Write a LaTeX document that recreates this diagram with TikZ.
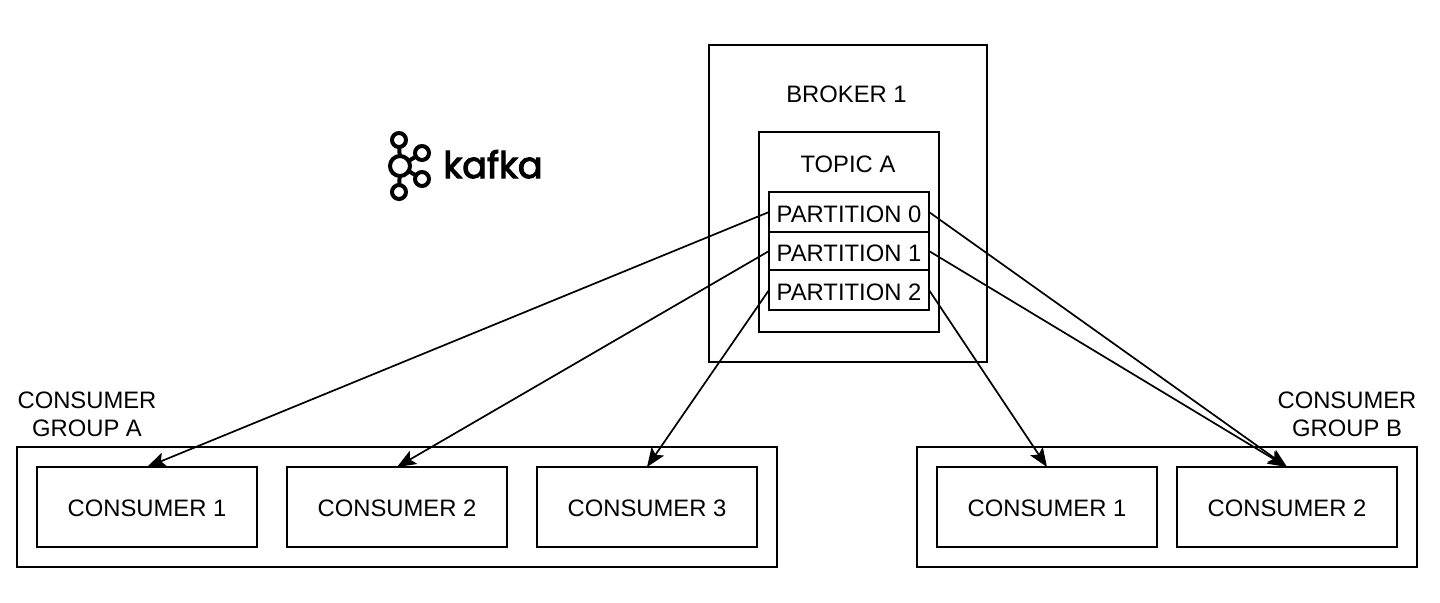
\documentclass[tikz,border=0pt]{standalone}
\usepackage{fontspec}
\setmainfont{Liberation Sans}
\newfontfamily\logofont{Poppins}[FakeBold=3]
\usetikzlibrary{arrows.meta}
\usetikzlibrary{positioning}

\begin{document}
\begin{tikzpicture}[
x=0.5pt,y=-0.5pt,
MyBox/.style={draw=black,line width=1pt,fill=white,inner sep=0pt,outer sep=0pt,font=\fontsize{11.9}{14}\selectfont},
Consumer/.style={MyBox,minimum width=110pt,minimum height=40pt,text height=9.6pt,text depth=0pt},
Partition/.style={MyBox,minimum width=80pt,minimum height=20pt,text height=10.6pt,text depth=0pt},
Caption/.style={inner sep=0pt,align=center,font=\fontsize{11.9}{14}\selectfont},
Link/.style={-{Stealth[length=9.5pt,width=7.5pt,inset=2pt]},black,line width=0.85pt},
LogoRing/.style={draw=black,line width=2pt,fill=white}
]
\useasboundingbox (0,0) rectangle (1440,602);

% broker and topic
\node[MyBox,minimum width=139pt,minimum height=158.5pt] (broker) at (848,203.5) {};
\node[MyBox,minimum width=90pt,minimum height=100pt] (topic) at (849,232) {};
\node[Caption] (brokerlabel) at (846.5,94) {BROKER 1};
\node[Caption] (topiclabel) at (848,164) {TOPIC A};

\node[Partition] (part0) at (849,212) {PARTITION 0};
\node[Partition,minimum height=19pt] (part1) at (849,251) {PARTITION 1};
\node[Partition] (part2) at (849,290) {PARTITION 2};

% consumer groups
\node[MyBox,minimum width=380pt,minimum height=60pt] (groupA) at (397,507) {};
\node[MyBox,minimum width=250pt,minimum height=60pt] (groupB) at (1167,507) {};
\node[Caption] (groupAlabel) at (87,414) {CONSUMER\\GROUP A};
\node[Caption] (groupBlabel) at (1347,414) {CONSUMER\\GROUP B};

\node[Consumer] (a1) at (147,507) {CONSUMER 1};
\node[Consumer] (a2) at (397,507) {CONSUMER 2};
\node[Consumer] (a3) at (647,507) {CONSUMER 3};
\node[Consumer] (b1) at (1047,507) {CONSUMER 1};
\node[Consumer] (b2) at (1287,507) {CONSUMER 2};

% partitions to consumers
\draw[Link] (part0.west)--(a1.north);
\draw[Link] (part1.west)--(a2.north);
\draw[Link] (part2.west)--(a3.north);
\draw[Link] (part0.east)--(b2.north);
\draw[Link] (part1.east)--(b2.north);
\draw[Link] (part2.east)--(b1.north);

% logo
\coordinate (hub) at (400,166);
\coordinate (ringT) at (399,140);
\coordinate (ringB) at (399,192);
\coordinate (ringU) at (422,153);
\coordinate (ringD) at (422,179);
\foreach \p in {ringT,ringB,ringU,ringD}
  \draw[black,line width=2pt] (hub)--(\p);
\foreach \p in {ringT,ringB,ringU,ringD}
  \draw[LogoRing] (\p) circle (7);
\draw[LogoRing] (hub) circle (10);
\node[inner sep=0pt,anchor=base west] (kafka) at (443,178) {\logofont\fontsize{18.3}{20}\selectfont kafka};
\end{tikzpicture}
\end{document}
